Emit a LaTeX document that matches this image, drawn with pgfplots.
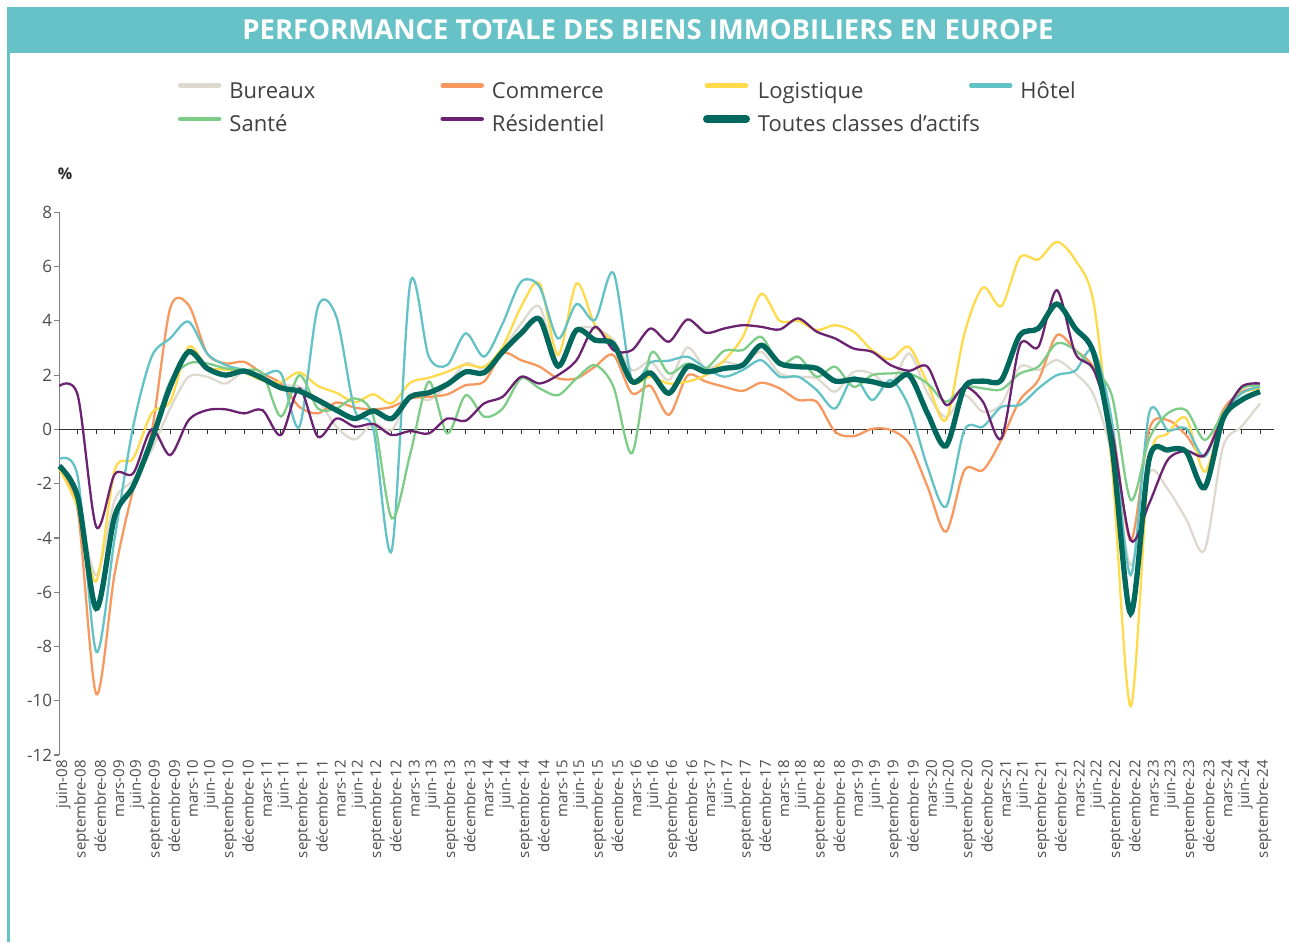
\documentclass[border=0pt]{standalone}
\usepackage{fontspec}
\setmainfont{Open Sans}
\usepackage{pgfplots}
\pgfplotsset{compat=1.18}
\usepackage{pgfplotstable}

\definecolor{cBur}{RGB}{221,217,206}
\definecolor{cCom}{RGB}{247,152,94}
\definecolor{cLog}{RGB}{255,218,75}
\definecolor{cHot}{RGB}{99,194,198}
\definecolor{cSan}{RGB}{125,204,135}
\definecolor{cRes}{RGB}{107,34,112}
\definecolor{cTot}{RGB}{0,104,92}
\definecolor{cBar}{RGB}{102,194,198}
\definecolor{cTxt}{RGB}{64,64,64}
\definecolor{cAx}{RGB}{128,128,128}

\pgfplotstableread{
i B C L H S R T
0 -1.45 -1.48 -1.45 -1.10 -1.40 1.60 -1.35
1 -2.80 -3.00 -2.90 -1.75 -2.60 1.25 -2.50
2 -5.37 -9.75 -5.60 -8.19 -6.50 -3.59 -6.60
3 -2.60 -5.30 -1.50 -4.00 -3.20 -1.65 -3.20
4 -1.87 -2.23 -1.07 0.10 -2.10 -1.62 -2.10
5 -0.76 -0.10 0.60 2.68 -0.30 0.00 -0.40
6 0.77 4.46 1.02 3.35 1.76 -0.95 1.57
7 1.94 4.58 3.04 3.97 2.43 0.34 2.86
8 1.94 2.80 2.30 2.80 2.43 0.71 2.25
9 1.69 2.43 2.20 2.37 2.25 0.74 2.00
10 2.12 2.49 2.10 2.19 2.19 0.59 2.15
11 1.82 2.06 1.80 2.00 2.06 0.71 1.88
12 1.63 1.69 1.75 2.06 0.47 -0.21 1.53
13 1.57 0.83 2.10 0.10 2.00 1.51 1.41
14 1.08 0.59 1.60 4.52 0.77 -0.27 1.08
15 0.10 0.99 1.35 4.15 0.77 0.40 0.71
16 -0.37 0.80 1.00 0.70 1.14 0.10 0.40
17 0.22 0.74 1.29 0.00 0.47 0.20 0.68
18 -0.02 0.83 0.96 -4.45 -3.28 -0.21 0.40
19 1.20 1.14 1.72 5.40 -0.90 -0.06 1.20
20 1.08 1.20 1.90 2.68 1.76 -0.15 1.35
21 1.63 1.29 2.12 2.37 -0.15 0.40 1.66
22 2.43 1.63 2.39 3.54 1.26 0.32 2.12
23 2.25 1.76 2.31 2.68 0.47 0.96 2.09
24 2.92 2.80 3.04 3.90 0.77 1.20 2.86
25 3.90 2.55 4.52 5.44 1.88 1.94 3.54
26 4.52 2.31 5.38 5.25 1.51 1.69 4.06
27 2.43 1.88 2.74 3.35 1.26 2.00 2.33
28 3.66 1.88 5.38 4.62 1.88 2.55 3.66
29 3.72 2.31 3.84 4.03 2.37 3.78 3.29
30 3.29 2.74 3.17 5.77 1.57 2.92 3.14
31 2.19 1.33 1.72 1.82 -0.88 2.92 1.76
32 2.50 1.60 1.94 2.47 2.77 3.72 2.08
33 1.82 0.53 1.69 2.53 2.06 3.23 1.33
34 3.02 1.98 1.76 2.68 2.43 4.05 2.31
35 2.25 1.76 2.00 2.25 2.25 3.56 2.12
36 2.49 1.57 2.55 1.94 2.90 3.72 2.25
37 2.37 1.42 3.41 2.19 2.92 3.84 2.37
38 2.86 1.72 5.00 2.55 3.41 3.78 3.10
39 2.06 1.51 4.00 1.94 2.39 3.68 2.43
40 1.94 1.08 4.00 1.94 2.68 4.09 2.31
41 1.88 1.02 3.66 1.45 1.94 3.60 2.25
42 1.39 -0.09 3.84 0.77 2.31 3.35 1.78
43 2.12 -0.25 3.60 1.94 1.57 2.98 1.84
44 2.06 0.02 2.92 1.08 2.00 2.86 1.76
45 1.63 -0.02 2.58 1.82 2.06 2.37 1.63
46 2.80 -0.52 3.04 0.83 2.06 2.16 2.00
47 1.33 -2.11 1.69 -1.38 1.69 2.31 0.59
48 0.45 -3.77 0.34 -2.85 1.02 0.90 -0.61
49 1.26 -1.50 3.54 -0.02 1.57 1.57 1.55
50 0.65 -1.50 5.23 0.10 1.51 1.02 1.78
51 0.93 -0.39 4.54 0.83 1.47 -0.33 1.82
52 2.31 1.08 6.34 0.90 2.06 3.11 3.47
53 2.19 1.82 6.26 1.51 2.31 3.04 3.72
54 2.55 3.47 6.91 2.00 3.17 5.13 4.62
55 2.06 2.92 6.24 2.16 2.92 2.80 3.72
56 1.26 2.25 4.64 2.92 2.19 2.19 2.80
57 -1.00 0.10 -1.50 0.22 1.20 -0.15 -0.70
58 -5.00 -4.10 -10.20 -5.37 -2.60 -4.08 -6.78
59 -1.60 0.00 -1.26 0.60 -0.35 -2.73 -1.10
60 -2.20 0.34 -0.15 -0.03 0.59 -1.13 -0.76
61 -3.30 -0.21 0.41 0.04 0.71 -0.79 -0.82
62 -4.45 -1.00 -1.56 -1.00 -0.39 -0.95 -2.15
63 -0.64 0.71 0.53 0.53 0.59 0.47 0.40
64 0.10 1.39 1.33 1.33 1.51 1.57 1.08
65 0.96 1.53 1.49 1.57 1.61 1.69 1.39
}\data

\begin{document}
\begin{tikzpicture}
\path[use as bounding box] (0pt,0pt) rectangle (1289pt,-942pt);
\fill[cBar] (7pt,-7pt) rectangle (1289pt,-53pt);
\fill[cBar] (7pt,-53pt) rectangle (10pt,-942pt);
\node[text=white, font=\bfseries\fontsize{27.5}{32}\selectfont] at (648pt,-30pt) {PERFORMANCE TOTALE DES BIENS IMMOBILIERS EN EUROPE};
\node[font=\bfseries\fontsize{16}{18}\selectfont, text=black!85] at (65pt,-174pt) {\%};
\begin{axis}[
  at={(59.3pt,-755pt)}, anchor=south west,
  scale only axis, width=1214.7pt, height=542.7pt,
  xmin=0, xmax=65.76, ymin=-12, ymax=8,
  axis y line*=left, axis x line*=bottom,
  x axis line style={draw=none},
  y axis line style={draw=cAx, line width=1.4pt},
  ytick={-12,-10,...,8},
  yticklabels={-12,-10,-8,-6,-4,-2,0,2,4,6,8},
  xtick={0,...,65},
  xticklabels={juin-08,septembre-08,décembre-08,mars-09,juin-09,septembre-09,décembre-09,mars-10,juin-10,septembre-10,décembre-10,mars-11,juin-11,septembre-11,décembre-11,mars-12,juin-12,septembre-12,décembre-12,mars-13,juin-13,septembre-13,décembre-13,mars-14,juin-14,septembre-14,décembre-14,mars-15,juin-15,septembre-15,décembre-15,mars-16,juin-16,septembre-16,décembre-16,mars-17,juin-17,septembre-17,décembre-17,mars-18,juin-18,septembre-18,décembre-18,mars-19,juin-19,septembre-19,décembre-19,mars-20,juin-20,septembre-20,décembre-20,mars-21,juin-21,septembre-21,décembre-21,mars-22,juin-22,septembre-22,décembre-22,mars-23,juin-23,septembre-23,décembre-23,mars-24,juin-24,septembre-24},
  tick align=outside, major tick length=5pt,
  ytick style={draw=cAx, line width=1.2pt},
  xtick style={draw=none},
  yticklabel style={font=\fontsize{17}{20}\selectfont, text=black!70, inner sep=0pt, xshift=-2pt},
  xticklabel style={font=\fontsize{15}{17}\selectfont, text=black!70, rotate=90, anchor=east, inner sep=0pt, yshift=-4pt},
  clip=false,
  legend columns=4,
  legend cell align=left,
  legend image code/.code={\draw[#1, line cap=round] (3pt,7pt) -- (42pt,7pt);},
  legend image post style={line width=4.5pt},
  legend style={at={(0.0977,1.2401)}, anchor=north west, draw=none, fill=none,
    inner sep=0pt, outer sep=0pt,
    font=\fontsize{22}{26}\selectfont, text=cTxt,
    nodes={inner sep=0pt, text height=16pt, text depth=5pt},
    row sep=12pt,
    /tikz/every odd column/.style={column sep=8pt}},
]
\draw[line width=1.1pt, black!80] (axis cs:0,0) -- (axis cs:65.76,0);
\pgfplotsinvokeforeach{1,...,65}{\draw[line width=1pt, black!80] (axis cs:#1,0) -- ++(0pt,-5pt);}
\addplot[cBur, line width=2.3pt, smooth] table[x=i, y=B] {\data};
\addlegendentry{\makebox[211pt][l]{Bureaux}}
\addplot[cCom, line width=2.3pt, smooth] table[x=i, y=C] {\data};
\addlegendentry{\makebox[211pt][l]{Commerce}}
\addplot[cLog, line width=2.3pt, smooth] table[x=i, y=L] {\data};
\addlegendentry{\makebox[211pt][l]{Logistique}}
\addplot[cHot, line width=2.3pt, smooth] table[x=i, y=H] {\data};
\addlegendentry{\makebox[211pt][l]{Hôtel}}
\addplot[cSan, line width=2.3pt, smooth] table[x=i, y=S] {\data};
\addlegendentry{\makebox[211pt][l]{Santé}}
\addplot[cRes, line width=2.3pt, smooth] table[x=i, y=R] {\data};
\addlegendentry{\makebox[211pt][l]{Résidentiel}}
\addplot[cTot, line width=5.3pt, smooth, legend image post style={line width=8pt}] table[x=i, y=T] {\data};
\addlegendentry{\makebox[211pt][l]{Toutes classes d’actifs}}
\end{axis}
\end{tikzpicture}
\end{document}
